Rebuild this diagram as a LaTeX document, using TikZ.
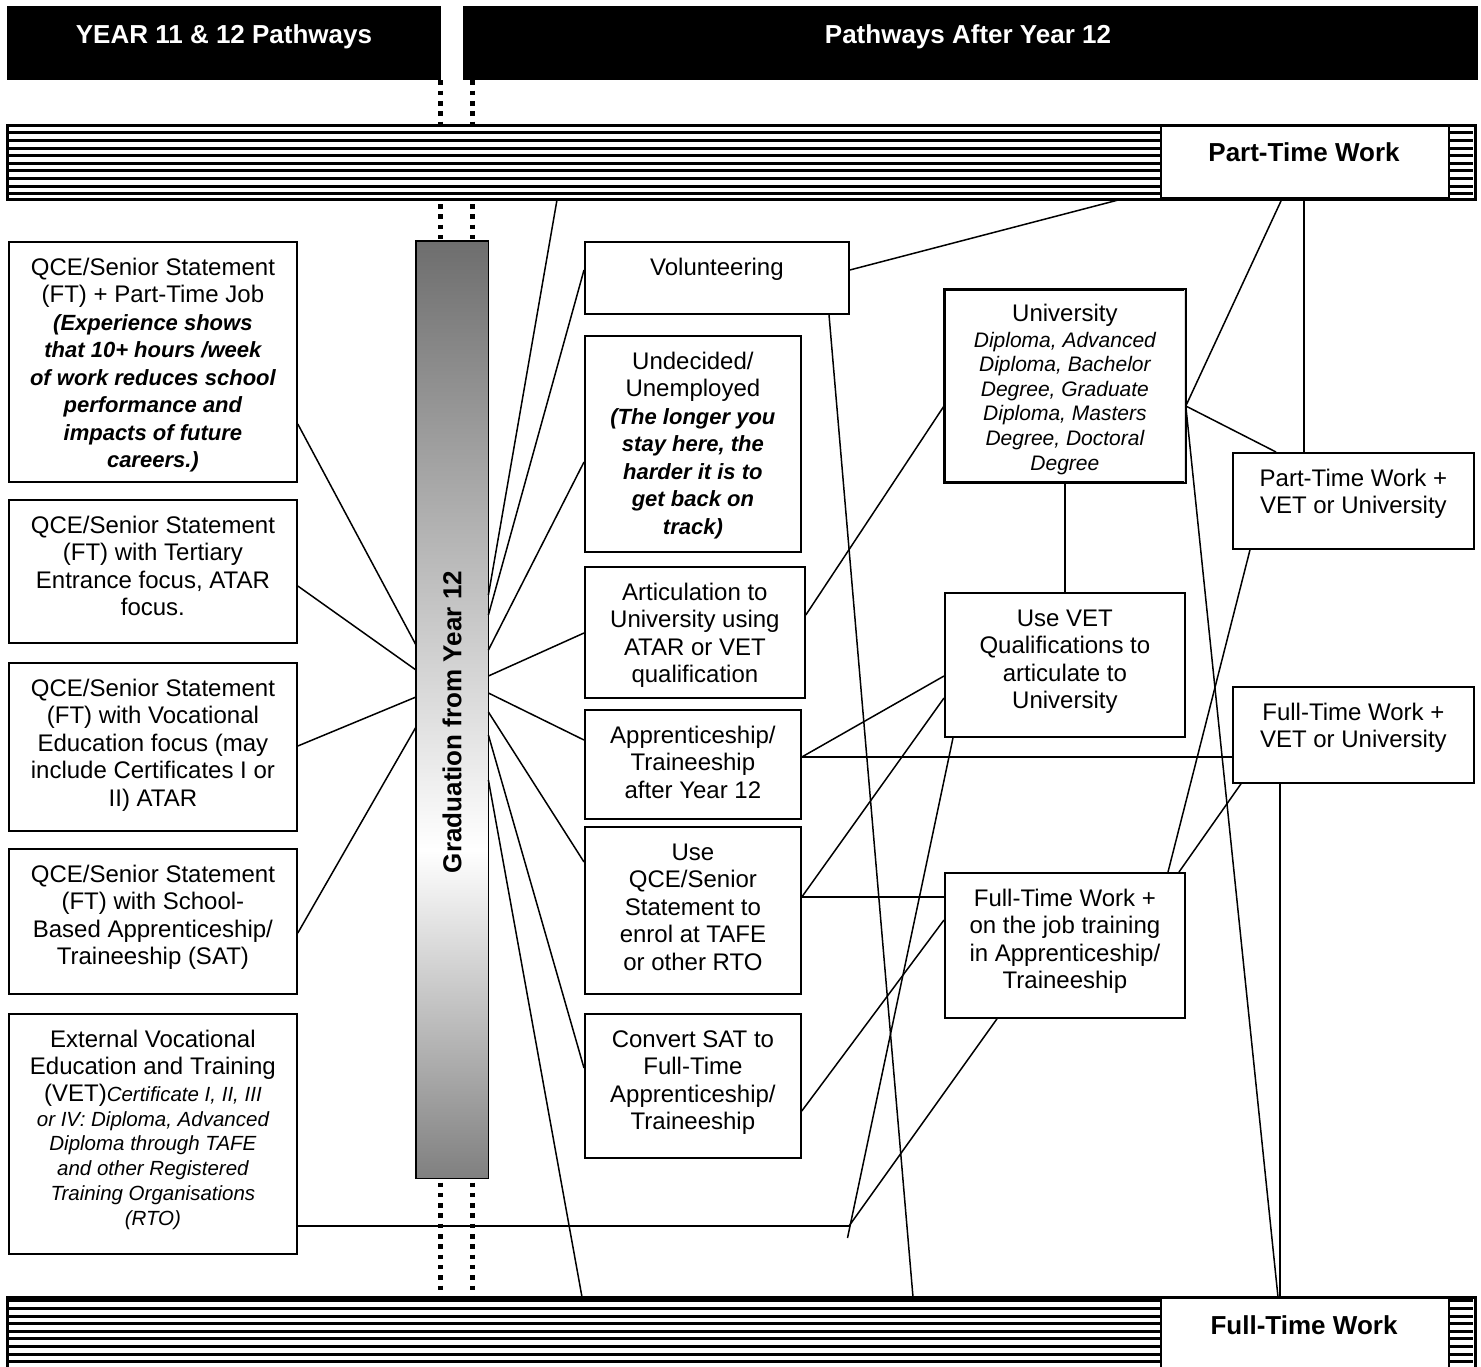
\documentclass[tikz,border=0pt]{standalone}
\usepackage{fontspec}
\setmainfont{Liberation Sans}
\usetikzlibrary{calc}

% A framed pathway box: name, left, top, width, height, first-baseline offset, text
\newcommand{\pathbox}[7]{%
  \node[frame, minimum width=#4pt, minimum height=#5pt, anchor=north west] (#1) at (#2,#3) {};
  \node[inner sep=0pt, anchor=base] (#1t) at ([yshift=-#6pt]#1.north)
    {\parbox[t]{#4pt}{\centering\fontsize{24}{27.5}\selectfont #7}};%
}

\begin{document}
\begin{tikzpicture}[x=1pt, y=-1pt,
  frame/.style={draw=black, line width=1.8pt, fill=white, inner sep=0pt},
  link/.style={draw=black, line width=1.5pt},
  stripe/.style={draw=black, line width=3pt},
  dotline/.style={draw=black, line width=5pt, dash pattern=on 4.5pt off 5.8pt},
  headbar/.style={fill=black, inner sep=0pt},
  headtext/.style={text=white, inner sep=0pt, anchor=base, font=\fontsize{26}{30}\selectfont\bfseries},
  bandtext/.style={inner sep=0pt, anchor=base, font=\fontsize{26}{30}\selectfont\bfseries},
]
\useasboundingbox (0,0) rectangle (1481,1366);
\clip (0,0) rectangle (1481,1366);

% ---------- column headers ----------
\node[headbar, minimum width=434pt, minimum height=74pt, anchor=north west] (hleft) at (7,6) {};
\node[headbar, minimum width=1015pt, minimum height=74pt, anchor=north west] (hright) at (463,6) {};
\node[headtext] (hleftt) at (224,43) {YEAR 11 \& 12 Pathways};
\node[headtext] (hrightt) at (968,43) {Pathways After Year 12};

% ---------- dotted graduation guides ----------
\draw[dotline] (hleft.south -| 440,0) -- (440,1297);
\draw[dotline] (hleft.south -| 472,0) -- (472,1297);

% ---------- part-time work band ----------
\node[frame, minimum width=1467pt, minimum height=73pt, anchor=north west] (topband) at (7,125) {};
\foreach \k in {0,...,8}
  \draw[stripe] (8,{132.7+\k*7.65}) -- (1473,{132.7+\k*7.65});
\draw[line width=1.8pt] (topband.north west) rectangle (topband.south east);
\node[frame, minimum width=288pt, minimum height=72pt, anchor=north west] (ptwork) at (1160,125) {};
\node[bandtext] (ptworkt) at (1304,161) {Part-Time Work};

% ---------- full-time work band ----------
\node[frame, minimum width=1467pt, minimum height=80pt, anchor=north west] (botband) at (7,1297) {};
\foreach \k in {0,...,8}
  \draw[stripe] (8,{1300.7+\k*7.65}) -- (1473,{1300.7+\k*7.65});
\draw[line width=1.8pt] (botband.north west) rectangle (botband.south east);
\node[frame, minimum width=288pt, minimum height=80pt, anchor=north west] (ftwork) at (1160,1297) {};
\node[bandtext] (ftworkt) at (1304,1334) {Full-Time Work};

% ---------- graduation column ----------
\path node[inner sep=0pt, minimum width=72pt, minimum height=937pt, anchor=north west] (grad) at (416,241) {};
\shade[top color=black!57, bottom color=white] (grad.north west) rectangle (grad.east |- 0,850);
\shade[top color=white, bottom color=black!50] (grad.west |- 0,850) rectangle (grad.south east);
\draw[line width=1.8pt] (grad.north west) rectangle (grad.south east);
\node[rotate=90, inner sep=0pt, font=\fontsize{26}{30}\selectfont\bfseries] (gradt) at (452,722) {Graduation from Year 12};

% ---------- Year 11 & 12 options ----------
\pathbox{l1}{8}{241}{288}{240}{34}{QCE/Senior Statement\\(FT) + Part-Time Job\\{\fontsize{22}{27.5}\selectfont\bfseries\itshape (Experience shows\\that 10+ hours /week\\of work reduces school\\performance and\\impacts of future\\careers.)}}
\pathbox{l2}{8}{499}{288}{143}{34}{QCE/Senior Statement\\(FT) with Tertiary\\Entrance focus, ATAR\\focus.}
\pathbox{l3}{8}{662}{288}{168}{34}{QCE/Senior Statement\\(FT) with Vocational\\Education focus (may\\include Certificates I or\\II) ATAR}
\pathbox{l4}{8}{848}{288}{145}{34}{QCE/Senior Statement\\(FT) with School-\\Based Apprenticeship/\\Traineeship (SAT)}
\pathbox{l5}{8}{1013}{288}{240}{34}{External Vocational\\Education and Training\par\vspace{2pt}(VET){\fontsize{20.5}{24.8}\selectfont\itshape Certificate I, II, III\\or IV: Diploma, Advanced\\Diploma through TAFE\\and other Registered\\Training Organisations\\(RTO)\par}}

% ---------- after Year 12 options ----------
\pathbox{vol}{584}{241}{264}{72}{34}{Volunteering}
\pathbox{und}{584}{335}{216}{216}{34}{Undecided/\\Unemployed\\{\fontsize{22}{27.5}\selectfont\bfseries\itshape (The longer you\\stay here, the\\harder it is to\\get back on\\track)}}
\pathbox{art}{584}{566}{220}{131}{34}{Articulation to\\University using\\ATAR or VET\\qualification}
\pathbox{app}{584}{709}{216}{109}{34}{Apprenticeship/\\Traineeship\\after Year 12}
\pathbox{useqce}{584}{826}{216}{167}{34}{Use\\QCE/Senior\\Statement to\\enrol at TAFE\\or other RTO}
\pathbox{conv}{584}{1013}{216}{144}{34}{Convert SAT to\\Full-Time\\Apprenticeship/\\Traineeship}

\begin{scope}
  \clip (944,289) rectangle (1184,481);
  \pathbox{uni}{944}{289}{240}{192}{32}{University\par\vspace{1.4pt}{\fontsize{21}{24.6}\selectfont\itshape Diploma, Advanced\\Diploma, Bachelor\\Degree, Graduate\\Diploma, Masters\\Degree, Doctoral\\Degree\par}}
\end{scope}
\draw[line width=1.8pt] (uni.north west) rectangle (uni.south east);
\pathbox{usevet}{944}{592}{240}{144}{34}{Use VET\\Qualifications to\\articulate to\\University}
\pathbox{ftjob}{944}{872}{240}{145}{34}{Full-Time Work +\\on the job training\\in Apprenticeship/\\Traineeship}
\pathbox{ptvet}{1232}{452}{241}{96}{34}{Part-Time Work +\\VET or University}
\pathbox{ftvet}{1232}{686}{241}{96}{34}{Full-Time Work +\\VET or University}

% ---------- junction of the external VET links ----------
\coordinate (vetjoin) at (849,1226);
\coordinate (vettail) at (847.5,1238);

% ---------- links into graduation ----------
\draw[link] (l1.east |- 0,424) -- (grad.west |- 0,645);
\draw[link] (l2.east |- 0,586) -- (grad.west |- 0,670);
\draw[link] (l3.east |- 0,746) -- (grad.west |- 0,697);
\draw[link] (l4.east |- 0,933) -- (grad.west |- 0,727);
\draw[link] (l5.east |- 0,1226) -- (vetjoin);

% ---------- links out of graduation ----------
\draw[link] (grad.east |- 0,595) -- (topband.south -| 557,0);
\draw[link] (grad.east |- 0,615) -- (vol.west |- 0,270);
\draw[link] (grad.east |- 0,650) -- (und.west |- 0,462);
\draw[link] (grad.east |- 0,676) -- (art.west |- 0,633);
\draw[link] (grad.east |- 0,693) -- (app.west |- 0,740);
\draw[link] (grad.east |- 0,712) -- (useqce.west |- 0,862);
\draw[link] (grad.east |- 0,735) -- (conv.west |- 0,1068);
\draw[link] (grad.east |- 0,780) -- (botband.north -| 582,0);

% ---------- links between later pathways ----------
\draw[link] (vol.east |- 0,270) -- (topband.south -| 1119,0);
\draw[link] (vol.south -| 829,0) -- (botband.north -| 913,0);
\draw[link] (art.east |- 0,615) -- (uni.west |- 0,406);
\draw[link] (app.east |- 0,757) -- (usevet.west |- 0,676);
\draw[link] (app.east |- 0,757) -- (ftvet.west |- 0,757);
\draw[link] (useqce.east |- 0,897) -- (usevet.west |- 0,698);
\draw[link] (useqce.east |- 0,897) -- (ftjob.west |- 0,897);
\draw[link] (conv.east |- 0,1111) -- (ftjob.west |- 0,920);
\draw[link] (usevet.south -| 953,0) -- (vettail);
\draw[link] (ftjob.south -| 997,0) -- (vetjoin);
\draw[link] (uni.south) -- (usevet.north);
\draw[link] (uni.east |- 0,406) -- (ptwork.south -| 1282,0);
\draw[link] (uni.east |- 0,406) -- (ptvet.north -| 1276,0);
\draw[link] (uni.east |- 0,406) -- (ftwork.north -| 1278,0);
\draw[link] (ptwork.south -| 1304,0) -- (ptvet.north -| 1304,0);
\draw[link] (ptvet.south -| 1250,0) -- (ftjob.north -| 1168,0);
\draw[link] (ftvet.south -| 1241,0) -- (ftjob.north -| 1179,0);
\draw[link] (ftvet.south -| 1280,0) -- (ftwork.north -| 1280,0);
\end{tikzpicture}
\end{document}
